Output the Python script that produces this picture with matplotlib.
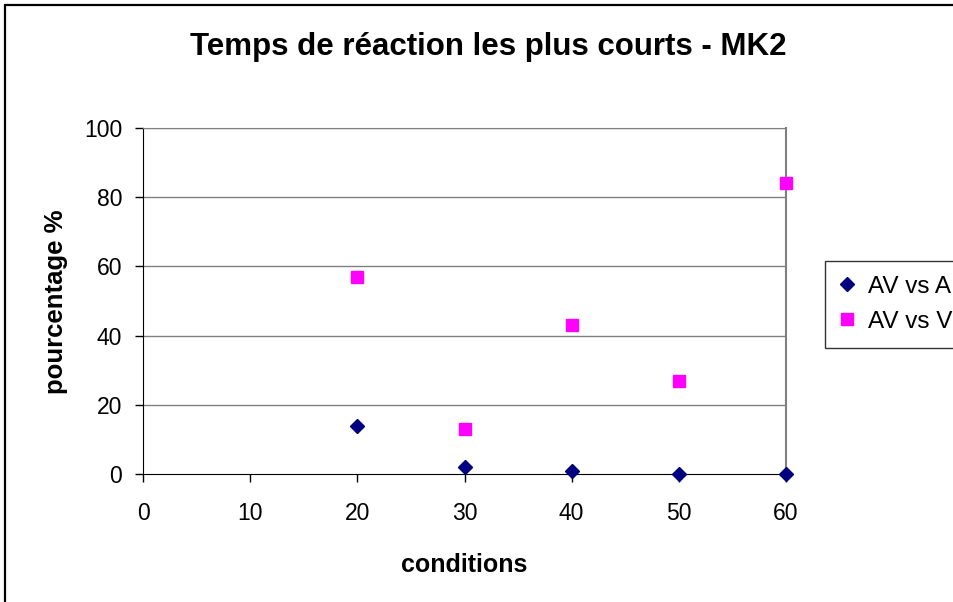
import matplotlib
matplotlib.use("Agg")
import matplotlib.pyplot as plt
from matplotlib.patches import Rectangle

plt.rcParams['font.family'] = ['Liberation Sans', 'DejaVu Sans']

conditions = [20, 30, 40, 50, 60]
av_vs_a = [14, 2, 1, 0, 0]
av_vs_v = [57, 13, 43, 27, 84]
x_ticks = [0, 10, 20, 30, 40, 50, 60]
y_ticks = [0, 20, 40, 60, 80, 100]

W, H = 954, 602
fig = plt.figure(figsize=(W / 100, H / 100), dpi=100)

# outer chart frame (right/bottom edges run past the canvas)
fig.patches.append(Rectangle((5.5 / W, -0.05), 1.2, 1.05 - 4.5 / H,
                             transform=fig.transFigure, fill=False,
                             edgecolor='black', linewidth=1.6))

ax = fig.add_axes([143 / W, 1 - 474 / H, (786 - 143) / W, (474 - 128) / H])
ax.set_xlim(0, 60)
ax.set_ylim(0, 100)
ax.set_xticks(x_ticks)
ax.set_yticks(y_ticks)
ax.tick_params(labelsize=16.5, length=6, width=1, direction='out')
ax.tick_params(axis='x', pad=14)
ax.tick_params(axis='y', pad=9)

for y in y_ticks[1:]:
    ax.axhline(y, color='#808080', linewidth=1, zorder=0)

ax.spines['left'].set_color('black')
ax.spines['bottom'].set_color('black')
ax.spines['top'].set_color('#808080')
ax.spines['right'].set_color('#808080')
ax.spines['right'].set_linewidth(1.5)

ax.plot(conditions, av_vs_a, linestyle='none', marker='D', markersize=6.8,
        color='#000080', label='AV vs A', clip_on=False, zorder=3)
ax.plot(conditions, av_vs_v, linestyle='none', marker='s', markersize=9,
        color='#FF00FF', label='AV vs V', clip_on=False, zorder=3)

fig.text(464 / W, 1 - 565 / H, 'conditions', ha='center', va='center',
         fontsize=18, fontweight='bold')
fig.text(56 / W, 1 - 302 / H, 'pourcentage %', ha='center', va='center',
         rotation=90, fontsize=18.5, fontweight='bold')
fig.text(488 / W, 1 - 47 / H, 'Temps de réaction les plus courts - MK2',
         ha='center', va='center', fontsize=22.5, fontweight='bold')

leg = fig.legend(loc='upper left', bbox_to_anchor=(825 / W, 1 - 261 / H),
                 bbox_transform=fig.transFigure, fontsize=17.5, frameon=True,
                 fancybox=False, edgecolor='black', handlelength=0.6,
                 handletextpad=0.55, borderpad=0.6, labelspacing=0.55,
                 borderaxespad=0)
leg.get_frame().set_linewidth(1)

fig.savefig('out.png', dpi=100)
